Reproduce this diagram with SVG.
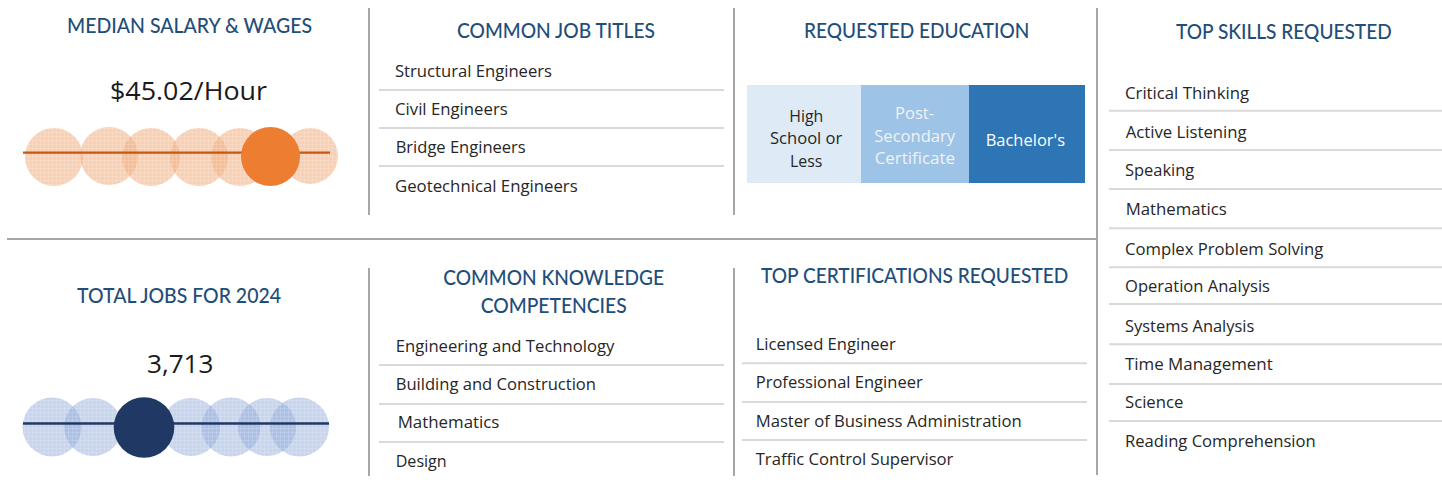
<svg xmlns="http://www.w3.org/2000/svg" width="1442" height="497" viewBox="0 0 1442 497">
<style>
text{font-family:"Open Sans","Liberation Sans",sans-serif}
.h{font-family:Lato,"Liberation Sans",sans-serif;font-size:21px;font-weight:500;fill:#1f4e79}
.b{font-size:16px;fill:#262626}
.big{font-size:26px;fill:#1a1a1a}
.e{font-size:16px}
.div{stroke:#a6a6a6;stroke-width:2;fill:none}
.sep{stroke:#d9d9d9;stroke-width:2;fill:none}
.oc{fill:url(#po);opacity:0.6}
.bc{fill:url(#pb);opacity:0.5}
</style>
<defs>
<pattern id="po" width="4" height="4" patternUnits="userSpaceOnUse">
<rect width="4" height="4" fill="#f4b183"/>
<path d="M0 0.5H4M0.5 0V4" stroke="#ffffff" stroke-opacity="0.15" stroke-width="1"/>
</pattern>
<pattern id="pb" width="4" height="4" patternUnits="userSpaceOnUse">
<rect width="4" height="4" fill="#8faadc"/>
<path d="M0 0.5H4M0.5 0V4" stroke="#ffffff" stroke-opacity="0.15" stroke-width="1"/>
</pattern>
</defs>
<rect width="1442" height="497" fill="#ffffff"/>

<g id="dividers">
<line class="div" x1="369" y1="8" x2="369" y2="215"/>
<line class="div" x1="734" y1="8" x2="734" y2="215"/>
<line class="div" x1="1097" y1="8" x2="1097" y2="475"/>
<line class="div" x1="369" y1="268" x2="369" y2="476"/>
<line class="div" x1="734" y1="268" x2="734" y2="476"/>
<line class="div" x1="7" y1="239" x2="1097" y2="239"/>
</g>

<g id="median-salary">
<text class="h" x="67" y="33" textLength="245" lengthAdjust="spacingAndGlyphs">MEDIAN SALARY &amp; WAGES</text>
<text class="big" x="110" y="100" textLength="157" lengthAdjust="spacingAndGlyphs">$45.02/Hour</text>
<circle class="oc" cx="54" cy="157" r="29"/>
<circle class="oc" cx="109" cy="156" r="29"/>
<circle class="oc" cx="151" cy="157" r="29"/>
<circle class="oc" cx="199" cy="157" r="29"/>
<circle class="oc" cx="240" cy="157" r="29"/>
<circle class="oc" cx="310" cy="156" r="28"/>
<line x1="23" y1="152.7" x2="330" y2="152.7" stroke="#c55a11" stroke-width="2.2"/>
<circle cx="270.5" cy="156.5" r="29.5" fill="#ed7d31"/>
</g>

<g id="total-jobs">
<text class="h" x="77" y="303" textLength="204" lengthAdjust="spacingAndGlyphs">TOTAL JOBS FOR 2024</text>
<text class="big" x="147" y="373" textLength="66.5" lengthAdjust="spacingAndGlyphs">3,713</text>
<circle class="bc" cx="52" cy="427" r="29.5"/>
<circle class="bc" cx="93" cy="427" r="29"/>
<circle class="bc" cx="191" cy="427" r="29"/>
<circle class="bc" cx="231" cy="427" r="29.5"/>
<circle class="bc" cx="267" cy="427" r="29"/>
<circle class="bc" cx="299.5" cy="427" r="29.5"/>
<line x1="23" y1="423.5" x2="329" y2="423.5" stroke="#203864" stroke-width="2.4"/>
<circle cx="144" cy="427.5" r="30.3" fill="#203864"/>
</g>

<g id="job-titles">
<text class="h" x="457" y="38" textLength="198" lengthAdjust="spacingAndGlyphs">COMMON JOB TITLES</text>
<text class="b" x="395" y="77" textLength="157" lengthAdjust="spacingAndGlyphs">Structural Engineers</text>
<text class="b" x="395" y="115" textLength="112.7" lengthAdjust="spacingAndGlyphs">Civil Engineers</text>
<text class="b" x="395.7" y="153" textLength="130" lengthAdjust="spacingAndGlyphs">Bridge Engineers</text>
<text class="b" x="395" y="192" textLength="182.7" lengthAdjust="spacingAndGlyphs">Geotechnical Engineers</text>
<line class="sep" x1="379" y1="90" x2="724" y2="90"/>
<line class="sep" x1="379" y1="128" x2="724" y2="128"/>
<line class="sep" x1="379" y1="166" x2="724" y2="166"/>
</g>

<g id="education">
<text class="h" x="804" y="38.3" textLength="225.3" lengthAdjust="spacingAndGlyphs">REQUESTED EDUCATION</text>
<rect x="747" y="85" width="114" height="98" fill="#deebf7"/>
<rect x="861" y="85" width="108" height="98" fill="#9dc3e6"/>
<rect x="969" y="85" width="116" height="98" fill="#2e75b6"/>
<g class="e" fill="#262626">
<text x="789.3" y="121.7" textLength="34" lengthAdjust="spacingAndGlyphs">High</text>
<text x="770" y="144" textLength="72.3" lengthAdjust="spacingAndGlyphs">School or</text>
<text x="790" y="166.7" textLength="32.3" lengthAdjust="spacingAndGlyphs">Less</text>
</g>
<g class="e" fill="#f2f2f2">
<text x="895" y="119" textLength="39" lengthAdjust="spacingAndGlyphs">Post-</text>
<text x="874.3" y="141.7" textLength="80.7" lengthAdjust="spacingAndGlyphs">Secondary</text>
<text x="874.7" y="164" textLength="80.3" lengthAdjust="spacingAndGlyphs">Certificate</text>
</g>
<text class="e" fill="#ffffff" x="985.7" y="146" textLength="79.3" lengthAdjust="spacingAndGlyphs">Bachelor's</text>
</g>

<g id="skills">
<text class="h" x="1176" y="39.3" textLength="215.7" lengthAdjust="spacingAndGlyphs">TOP SKILLS REQUESTED</text>
<text class="b" x="1125" y="99.3" textLength="124" lengthAdjust="spacingAndGlyphs">Critical Thinking</text>
<text class="b" x="1125.7" y="137.7" textLength="121" lengthAdjust="spacingAndGlyphs">Active Listening</text>
<text class="b" x="1125" y="176" textLength="69.3" lengthAdjust="spacingAndGlyphs">Speaking</text>
<text class="b" x="1125.7" y="215" textLength="101" lengthAdjust="spacingAndGlyphs">Mathematics</text>
<text class="b" x="1125" y="254.5" textLength="198.3" lengthAdjust="spacingAndGlyphs">Complex Problem Solving</text>
<text class="b" x="1125" y="291.7" textLength="145" lengthAdjust="spacingAndGlyphs">Operation Analysis</text>
<text class="b" x="1125" y="331.7" textLength="129.3" lengthAdjust="spacingAndGlyphs">Systems Analysis</text>
<text class="b" x="1125" y="370" textLength="147.7" lengthAdjust="spacingAndGlyphs">Time Management</text>
<text class="b" x="1125" y="408" textLength="58.3" lengthAdjust="spacingAndGlyphs">Science</text>
<text class="b" x="1125" y="446.7" textLength="190.7" lengthAdjust="spacingAndGlyphs">Reading Comprehension</text>
<line class="sep" x1="1109" y1="110.7" x2="1442" y2="110.7"/>
<line class="sep" x1="1109" y1="150" x2="1442" y2="150"/>
<line class="sep" x1="1109" y1="189" x2="1442" y2="189"/>
<line class="sep" x1="1109" y1="228.3" x2="1442" y2="228.3"/>
<line class="sep" x1="1109" y1="267.3" x2="1442" y2="267.3"/>
<line class="sep" x1="1109" y1="304" x2="1442" y2="304"/>
<line class="sep" x1="1109" y1="344.3" x2="1442" y2="344.3"/>
<line class="sep" x1="1109" y1="384" x2="1442" y2="384"/>
<line class="sep" x1="1109" y1="421" x2="1442" y2="421"/>
</g>

<g id="knowledge">
<text class="h" x="443.3" y="285" textLength="220.7" lengthAdjust="spacingAndGlyphs">COMMON KNOWLEDGE</text>
<text class="h" x="480.7" y="313.3" textLength="146" lengthAdjust="spacingAndGlyphs">COMPETENCIES</text>
<text class="b" x="395.7" y="351.7" textLength="218.7" lengthAdjust="spacingAndGlyphs">Engineering and Technology</text>
<text class="b" x="395.7" y="390" textLength="200.3" lengthAdjust="spacingAndGlyphs">Building and Construction</text>
<text class="b" x="397.7" y="428.3" textLength="101.7" lengthAdjust="spacingAndGlyphs">Mathematics</text>
<text class="b" x="395.7" y="467.3" textLength="51" lengthAdjust="spacingAndGlyphs">Design</text>
<line class="sep" x1="379" y1="365" x2="724" y2="365"/>
<line class="sep" x1="379" y1="404" x2="724" y2="404"/>
<line class="sep" x1="379" y1="442" x2="724" y2="442"/>
</g>

<g id="certifications">
<text class="h" x="761" y="283.3" textLength="307.3" lengthAdjust="spacingAndGlyphs">TOP CERTIFICATIONS REQUESTED</text>
<text class="b" x="755.7" y="350" textLength="140" lengthAdjust="spacingAndGlyphs">Licensed Engineer</text>
<text class="b" x="755.7" y="388.3" textLength="167" lengthAdjust="spacingAndGlyphs">Professional Engineer</text>
<text class="b" x="755.7" y="426.7" textLength="266" lengthAdjust="spacingAndGlyphs">Master of Business Administration</text>
<text class="b" x="755.7" y="465" textLength="197.7" lengthAdjust="spacingAndGlyphs">Traffic Control Supervisor</text>
<line class="sep" x1="742" y1="363.3" x2="1087" y2="363.3"/>
<line class="sep" x1="742" y1="402" x2="1087" y2="402"/>
<line class="sep" x1="742" y1="440" x2="1087" y2="440"/>
</g>
</svg>
